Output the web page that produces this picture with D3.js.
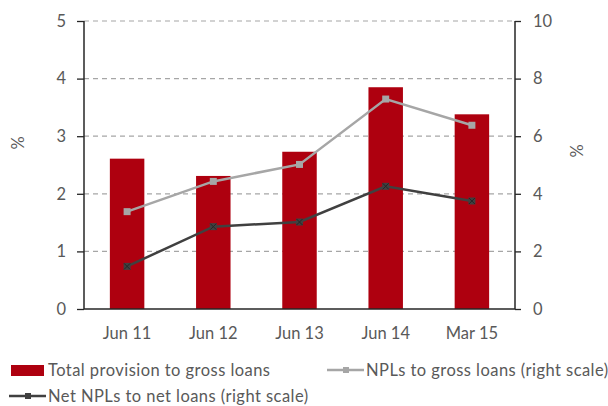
<!DOCTYPE html>
<html><head><meta charset="utf-8">
<script src="https://cdn.jsdelivr.net/npm/d3@7"></script>
<style>body{margin:0;background:#fff;}svg{display:block;font-family:Lato,"Open Sans",sans-serif;}</style>
</head><body><svg id="c" width="608" height="406"></svg>
<script>
const categories = ["Jun 11","Jun 12","Jun 13","Jun 14","Mar 15"];
const provision = [2.61, 2.31, 2.73, 3.85, 3.38];
const nplGross = [3.38, 4.43, 5.02, 7.29, 6.38];
const netNpl = [1.48, 2.86, 3.02, 4.26, 3.75];
const leftTicks = [0,1,2,3,4,5];
const rightTicks = [0,2,4,6,8,10];
const seriesNames = ["Total provision to gross loans","NPLs to gross loans (right scale)","Net NPLs to net loans (right scale)"];

const svg = d3.select("#c");
const L = 84, R = 515, T = 21, B = 309;
const txt = "#595959", fs = 16.5;
const x = d3.scaleBand().domain(categories).range([L, R]).paddingInner(0.6).paddingOuter(0.3);
const yL = d3.scaleLinear().domain([0,5]).range([B, T]);
const yR = d3.scaleLinear().domain([0,10]).range([B, T]);

// gridlines
svg.append("g").selectAll("line").data(leftTicks.slice(1)).join("line")
  .attr("x1", L).attr("x2", R).attr("y1", d=>yL(d)).attr("y2", d=>yL(d))
  .attr("stroke", "#a6a6a6").attr("stroke-width", 1.2).attr("stroke-dasharray", "5,4");

// bars
svg.append("g").selectAll("rect").data(provision).join("rect")
  .attr("x", (d,i)=>x(categories[i])).attr("width", x.bandwidth())
  .attr("y", d=>yL(d)).attr("height", d=>B - yL(d)).attr("fill", "#ae000f");

// axes
const gl = svg.append("g").attr("transform", `translate(${L},0)`)
  .call(d3.axisLeft(yL).tickValues(leftTicks).tickSize(7).tickPadding(11).tickFormat(d3.format("d")));
const gr = svg.append("g").attr("transform", `translate(${R},0)`)
  .call(d3.axisRight(yR).tickValues(rightTicks).tickSize(6).tickPadding(12).tickFormat(d3.format("d")));
const gb = svg.append("g").attr("transform", `translate(0,${B})`)
  .call(d3.axisBottom(x).tickSize(0).tickPadding(18));
[gl, gr, gb].forEach(g => {
  g.select(".domain").attr("stroke", "#262626").attr("stroke-width", 1.5);
  g.selectAll(".tick line").attr("stroke", "#262626").attr("stroke-width", 1.3);
  g.selectAll("text").attr("fill", txt).attr("font-size", fs).attr("font-family", "Lato, sans-serif");
});
gl.select(".domain").attr("d", `M0,${T}V${B}`);
gr.select(".domain").attr("d", `M0,${T}V${B}`);
gb.select(".domain").attr("d", `M${L},0H${R}`);

// axis titles
svg.append("text").attr("transform", "translate(24,143) rotate(-90)").attr("text-anchor","middle")
  .attr("fill", txt).attr("font-size", fs).text("%");
svg.append("text").attr("transform", "translate(583,151) rotate(-90)").attr("text-anchor","middle")
  .attr("fill", txt).attr("font-size", fs).text("%");

// lines
const cx = i => x(categories[i]) + x.bandwidth()/2;
function drawLine(data, color, cross) {
  const line = d3.line().x((d,i)=>cx(i)).y(d=>yR(d));
  svg.append("path").datum(data).attr("d", line).attr("fill","none")
    .attr("stroke", color).attr("stroke-width", 2.5);
  const g = svg.append("g");
  g.selectAll("rect").data(data).join("rect")
    .attr("x",(d,i)=>cx(i)-3.5).attr("y",d=>yR(d)-3.5).attr("width",7).attr("height",7)
    .attr("fill", color);
  if (cross) {
    g.selectAll("path").data(data).join("path")
      .attr("d",(d,i)=>`M${cx(i)-3},${yR(d)-3}L${cx(i)+3},${yR(d)+3}M${cx(i)+3},${yR(d)-3}L${cx(i)-3},${yR(d)+3}`)
      .attr("stroke","#262626").attr("stroke-width",1);
  }
}
drawLine(nplGross, "#a6a6a6", false);
drawLine(netNpl, "#404040", true);

// legend
const lg = svg.append("g").attr("font-size", fs).attr("letter-spacing", 0.45);
lg.append("rect").attr("x", 11).attr("y", 365).attr("width", 33).attr("height", 11).attr("fill", "#ae000f");
lg.append("text").attr("x", 48).attr("y", 376).attr("fill", txt).text(seriesNames[0]);
function legLine(x0, y0, color, label) {
  lg.append("line").attr("x1", x0).attr("x2", x0+37).attr("y1", y0).attr("y2", y0).attr("stroke", color).attr("stroke-width", 2.5);
  lg.append("rect").attr("x", x0+16).attr("y", y0-3).attr("width", 6).attr("height", 6).attr("fill", color);
  lg.append("text").attr("x", x0+39).attr("y", y0+6).attr("fill", txt).text(label);
}
legLine(327, 370, "#a6a6a6", seriesNames[1]);
legLine(9, 396, "#404040", seriesNames[2]);
</script></body></html>
